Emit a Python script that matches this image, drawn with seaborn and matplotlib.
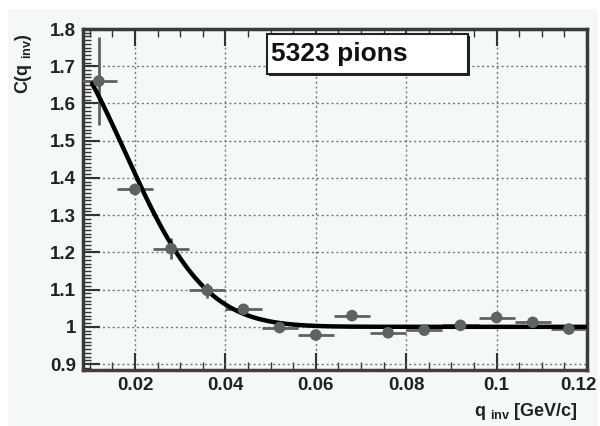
import numpy as np
import pandas as pd
import matplotlib
matplotlib.use("Agg")
import matplotlib.pyplot as plt
from matplotlib.patches import Rectangle
from matplotlib.ticker import MultipleLocator
from matplotlib.transforms import ScaledTranslation
import seaborn as sns

# Measured correlation function C(q_inv) for identical pions
q_inv = [0.012, 0.020, 0.028, 0.036, 0.044, 0.052, 0.060,
         0.068, 0.076, 0.084, 0.092, 0.100, 0.108, 0.116]
c_val = [1.660, 1.369, 1.210, 1.098, 1.047, 0.998, 0.978,
         1.030, 0.984, 0.991, 1.004, 1.025, 1.012, 0.994]
c_err = [0.118, 0.015, 0.028, 0.020, 0.012, 0.008, 0.008,
         0.007, 0.007, 0.006, 0.006, 0.006, 0.005, 0.005]
q_halfbin = 0.004

# Gaussian fit parameters: C = 1 + lambda * exp(-(q R / hbar c)^2)
fit_lambda = 0.78
fit_radius_fm = 7.9
hbar_c = 0.1973  # GeV fm
fit_qmin, fit_qmax = 0.0105, 0.12

x_ticks = [0.02, 0.04, 0.06, 0.08, 0.10, 0.12]
x_ticklabels = ["0.02", "0.04", "0.06", "0.08", "0.1", "0.12"]
y_ticks = [0.9, 1.0, 1.1, 1.2, 1.3, 1.4, 1.5, 1.6, 1.7, 1.8]
y_ticklabels = ["0.9", "1", "1.1", "1.2", "1.3", "1.4", "1.5", "1.6", "1.7", "1.8"]

sns.set_theme(style="ticks")
plt.rcParams["font.family"] = ["Liberation Sans", "DejaVu Sans"]
plt.rcParams["mathtext.fontset"] = "custom"
plt.rcParams["mathtext.rm"] = "Liberation Sans:bold"
plt.rcParams["mathtext.it"] = "Liberation Sans:bold"

panel = "#f4f8f6"
fig = plt.figure(figsize=(6.0, 4.26), dpi=100, facecolor="white")
fig.patches.append(Rectangle((8 / 600, 0.0), 590 / 600, 1 - 9 / 426,
                             transform=fig.transFigure, facecolor=panel,
                             edgecolor="none", zorder=-10))
ax = fig.add_axes([83 / 600, 56 / 426, 504 / 600, 341 / 426])
ax.set_facecolor(panel)

# fit curve
q_fit = np.linspace(fit_qmin, fit_qmax, 400)
c_fit = 1 + fit_lambda * np.exp(-(q_fit * fit_radius_fm / hbar_c) ** 2)
sns.lineplot(x=q_fit, y=c_fit, ax=ax, color="black", linewidth=3.2, zorder=4)

# data points with errors
data = pd.DataFrame({"q": q_inv, "C": c_val, "err": c_err})
ax.errorbar(data["q"], data["C"], xerr=q_halfbin, yerr=data["err"],
            fmt="none", ecolor="#5e635f", elinewidth=2.0, capsize=0, zorder=3)
sns.scatterplot(data=data, x="q", y="C", ax=ax, color="#5e635f", s=70,
                edgecolor="none", zorder=5)

ax.set_xlim(0.0085, 0.1195)
ax.set_ylim(0.884, 1.8)

ax.set_xticks(x_ticks)
ax.set_xticklabels(x_ticklabels)
ax.xaxis.set_minor_locator(MultipleLocator(0.005))
ax.set_yticks(y_ticks)
ax.set_yticklabels(y_ticklabels)
ax.yaxis.set_minor_locator(MultipleLocator(0.01))

ax.grid(True, which="major", linestyle=(0, (1.5, 2.0)), color="#777777",
        linewidth=1.0)
ax.tick_params(which="both", direction="in", top=True, right=False,
               colors="#333333", labelcolor="#222222")
ax.tick_params(which="major", length=12, width=1.5, labelsize=13.5, pad=5)
ax.tick_params(which="minor", length=6, width=1.0)
for lab in ax.get_xticklabels() + ax.get_yticklabels():
    lab.set_fontweight("bold")
# last x label sits at the panel edge; nudge it inward
last = ax.get_xticklabels()[-1]
last.set_transform(last.get_transform() +
                   ScaledTranslation(-9 / 100, 0, fig.dpi_scale_trans))

for side in ["left", "right", "top", "bottom"]:
    ax.spines[side].set_linewidth(2.5)
    ax.spines[side].set_color("#3a3a3a")
ax.spines["bottom"].set_color("#4a3a38")

ax.set_xlabel("")
ax.set_ylabel("")
fig.text(578 / 600, 1 - 411 / 426, r"q $_{\mathrm{inv}}$ [GeV/c]", ha="right",
         va="center", fontsize=13, fontweight="bold", color="#222222")
fig.text(24 / 600, 1 - 64 / 426, r"C(q $_{\mathrm{inv}}$)", ha="center",
         va="center", rotation=90, fontsize=13, fontweight="bold",
         color="#222222")

# event count label box with drop shadow
box_x0, box_x1 = 0.0492, 0.0936
box_y0, box_y1 = 1.68, 1.787
shadow = Rectangle((box_x0, box_y0), box_x1 - box_x0, box_y1 - box_y0,
                   facecolor="#222222", edgecolor="none", zorder=6,
                   transform=ax.transData + ScaledTranslation(
                       2.5 / 100, -2.5 / 100, fig.dpi_scale_trans))
ax.add_patch(shadow)
ax.add_patch(Rectangle((box_x0, box_y0), box_x1 - box_x0, box_y1 - box_y0,
                       facecolor="white", edgecolor="#222222", linewidth=1.5,
                       zorder=6.5))
ax.text(0.0501, 1.732, "5323 pions", ha="left", va="center",
        fontsize=19, fontweight="bold", color="#111111", zorder=7)

fig.savefig("out.png", dpi=100, facecolor="white")
